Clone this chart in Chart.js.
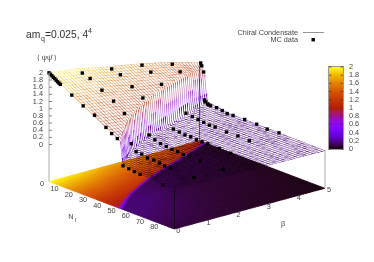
<!DOCTYPE html>
<html>
<head>
<meta charset="utf-8">
<script src="https://cdn.jsdelivr.net/npm/chart.js@4"></script>
<style>
  html, body { margin: 0; background: #fff; }
  canvas { display: block; }
</style>
</head>
<body>
<canvas id="chart" width="374" height="262"></canvas>
<script>
// MC data, one pair of arrays per beta
const mcBeta = [0, 1, 2, 3, 4, 5];
const mcNf0 = [0, 1, 2, 3, 4, 5, 6, 7, 8, 16, 24, 32, 40, 44, 48, 52, 56, 60, 64, 80];
const mcZ0 = [2, 1.97, 1.95, 1.92, 1.9, 1.87, 1.84, 1.82, 1.8, 1.62, 1.44, 1.3, 1.08, 0.97, 0.89, 0.19, 0.17, 0.15, 0.135, 0.076];
const mcNf1 = [2.2, 7.7, 16, 24.2, 31.8, 36.6, 40, 44, 48, 52.4, 56.5, 60, 64, 80.6];
const mcZ1 = [1.8, 1.73, 1.53, 1.35, 1.115, 0.35, 0.18, 0.17, 0.12, 0.13, 0.11, 0.08, 0.09, 0.067];
const mcNf2 = [1.65, 7.8, 16, 23.6, 28, 32, 36, 40, 44, 48, 52, 56, 64, 80];
const mcZ2 = [1.68, 1.61, 1.4, 1.2, 0.235, 0.16, 0.116, 0.095, 0.076, 0.075, 0.054, 0.065, 0.054, 0.05];
const mcNf3 = [1.8, 8, 15.5, 23.8, 28, 32, 36, 40, 44, 48, 56, 64];
const mcZ3 = [1.56, 1.46, 1.23, 0.11, 0.09, 0.07, 0.078, 0.055, 0.06, 0.067, 0.05, 0.04];
const mcNf4 = [1.9, 7.4, 11.5, 16, 20, 24, 28, 32, 40, 48, 56];
const mcZ4 = [1.36, 1.23, 0.14, 0.115, 0.095, 0.075, 0.055, 0.06, 0.045, 0.055, 0.04];
const mcNf5 = [0.7, 1.4, 2.75, 3.4, 4.1, 5.5, 6.2, 7.6, 11.8, 15.8, 19.3, 23.4, 31.6, 40, 47.4, 55.7];
const mcZ5 = [1.15, 1.08, 0.93, 0.16, 0.115, 0.08, 0.065, 0.06, 0.07, 0.05, 0.02, 0.03, 0.04, 0.035, 0.01, 0.03];
const mcNf = [mcNf0, mcNf1, mcNf2, mcNf3, mcNf4, mcNf5];
const mcZ = [mcZ0, mcZ1, mcZ2, mcZ3, mcZ4, mcZ5];

// surface, read per beta row (0 to 5 in steps of 0.1)
const betaGrid = [0, 0.1, 0.2, 0.3, 0.4, 0.5, 0.6, 0.7, 0.8, 0.9, 1, 1.1, 1.2, 1.3, 1.4, 1.5, 1.6, 1.7, 1.8, 1.9, 2, 2.1, 2.2, 2.3, 2.4, 2.5, 2.6, 2.7, 2.8, 2.9, 3, 3.1, 3.2, 3.3, 3.4, 3.5, 3.6, 3.7, 3.8, 3.9, 4, 4.1, 4.2, 4.3, 4.4, 4.5, 4.6, 4.7, 4.8, 4.9, 5];
const nfGrid = [0, 2, 4, 6, 8, 10, 12, 14, 16, 18, 20, 22, 24, 26, 28, 30, 32, 34, 36, 38, 40, 42, 44, 46, 48, 50, 52, 54, 56, 58, 60, 62, 64, 66, 68, 70, 72, 74, 76, 78, 80, 82, 84, 86, 88];
const rowEdgeNf = [49.5, 48, 46.5, 45, 43.5, 42, 40.7, 39.4, 38, 36.8, 35.5, 34.5, 33.5, 32.5, 31.5, 30.5, 29.5, 28.5, 27.5, 26.5, 25.5, 24.7, 23.9, 23.1, 22.3, 21.5, 20.7, 19.9, 19.1, 18.3, 17.5, 16.8, 16.1, 15.4, 14.7, 14, 13.3, 12.6, 11.9, 11.2, 10.5, 9.7, 8.9, 8.1, 7.3, 6.5, 5.8, 5, 4.3, 3.5, 2.8];
const rowTopZ = [2, 1.99, 1.98, 1.97, 1.96, 1.95, 1.94, 1.93, 1.92, 1.91, 1.9, 1.88, 1.86, 1.84, 1.82, 1.81, 1.79, 1.77, 1.75, 1.74, 1.72, 1.71, 1.69, 1.68, 1.66, 1.65, 1.63, 1.62, 1.6, 1.59, 1.57, 1.55, 1.53, 1.51, 1.49, 1.48, 1.46, 1.44, 1.42, 1.4, 1.38, 1.36, 1.34, 1.31, 1.29, 1.27, 1.25, 1.23, 1.2, 1.18, 1.16];
const rowEdgeZ = [0.87, 0.9, 0.93, 0.95, 0.98, 1, 1.02, 1.04, 1.06, 1.08, 1.09, 1.1, 1.11, 1.12, 1.13, 1.14, 1.15, 1.15, 1.16, 1.16, 1.17, 1.17, 1.18, 1.18, 1.19, 1.19, 1.2, 1.2, 1.21, 1.21, 1.22, 1.22, 1.22, 1.22, 1.22, 1.21, 1.21, 1.21, 1.21, 1.2, 1.2, 1.18, 1.16, 1.14, 1.12, 1.09, 1.06, 1.03, 1, 0.95, 0.9];
const rowFootZ = [0.22, 0.22, 0.22, 0.22, 0.22, 0.21, 0.21, 0.21, 0.21, 0.2, 0.2, 0.2, 0.2, 0.2, 0.2, 0.2, 0.2, 0.2, 0.2, 0.2, 0.2, 0.19, 0.18, 0.17, 0.16, 0.15, 0.15, 0.14, 0.14, 0.13, 0.13, 0.13, 0.13, 0.13, 0.13, 0.13, 0.14, 0.14, 0.14, 0.14, 0.14, 0.14, 0.14, 0.14, 0.14, 0.14, 0.14, 0.14, 0.14, 0.14, 0.14];
const rowKneeZ = [0.13, 0.13, 0.13, 0.13, 0.13, 0.13, 0.13, 0.13, 0.13, 0.13, 0.13, 0.12, 0.12, 0.12, 0.11, 0.11, 0.11, 0.1, 0.1, 0.09, 0.09, 0.09, 0.09, 0.08, 0.08, 0.08, 0.08, 0.07, 0.07, 0.07, 0.07, 0.07, 0.07, 0.07, 0.07, 0.07, 0.07, 0.07, 0.065, 0.065, 0.065, 0.06, 0.06, 0.06, 0.055, 0.05, 0.05, 0.05, 0.045, 0.04, 0.04];
const rowEndZ = [0.07, 0.07, 0.07, 0.07, 0.07, 0.07, 0.07, 0.07, 0.07, 0.06, 0.06, 0.06, 0.06, 0.06, 0.06, 0.06, 0.055, 0.055, 0.05, 0.05, 0.05, 0.05, 0.05, 0.05, 0.045, 0.045, 0.045, 0.045, 0.04, 0.04, 0.04, 0.04, 0.04, 0.035, 0.035, 0.035, 0.035, 0.03, 0.03, 0.03, 0.03, 0.03, 0.03, 0.03, 0.025, 0.025, 0.025, 0.025, 0.02, 0.02, 0.02];

// tick labels
const zTicks = ["0", "0.2", "0.4", "0.6", "0.8", "1", "1.2", "1.4", "1.6", "1.8", "2"];
const nfTicks = ["0", "10", "20", "30", "40", "50", "60", "70", "80"];
const betaTicks = ["0", "1", "2", "3", "4", "5"];

// gnuplot style 3d view mapped on the chart's two scales
const project = (nf, beta, z) => ({
  x: 46 + nf * 1.4545 + beta * 30.8,
  y: 145 + nf * 0.557 - beta * 8.4 - z * 37,
});
const floorZ = -1.03;

// palette 7,5,15 over cb range 0..2
function palette(z, alpha = 1) {
  const t = Math.max(0, Math.min(1, z / 2));
  const r = Math.sqrt(t);
  const g = t * t * t;
  const b = Math.max(0, Math.sin(2 * Math.PI * t));
  return `rgba(${Math.round(r * 255)},${Math.round(g * 255)},${Math.round(b * 255)},${alpha})`;
}

// cliff profile from plateau edge to foot
const cliffSteps = [0, 0.15, 0.3, 0.45, 0.6, 0.75, 0.9, 1];
const cliffDrop = [0, 0.05, 0.2, 0.45, 0.72, 0.9, 0.98, 1];
const cliffWidth = 3;
const kneeOffset = 16;

function heightAt(i, nf) {
  const edge = rowEdgeNf[i];
  const foot = edge + cliffWidth;
  if (nf <= edge) return rowTopZ[i] + ((rowEdgeZ[i] - rowTopZ[i]) * nf) / edge;
  if (nf < foot) {
    const s = (nf - edge) / cliffWidth;
    let k = 1;
    while (cliffSteps[k] < s) k++;
    const f = (s - cliffSteps[k - 1]) / (cliffSteps[k] - cliffSteps[k - 1]);
    const d = cliffDrop[k - 1] + (cliffDrop[k] - cliffDrop[k - 1]) * f;
    return rowEdgeZ[i] + (rowFootZ[i] - rowEdgeZ[i]) * d;
  }
  const knee = foot + kneeOffset;
  if (nf <= knee) return rowFootZ[i] + ((rowKneeZ[i] - rowFootZ[i]) * (nf - foot)) / kneeOffset;
  return rowKneeZ[i] + ((rowEndZ[i] - rowKneeZ[i]) * (nf - knee)) / (88 - knee);
}

function point3d(nf, beta, z) {
  const p = project(nf, beta, z);
  return { x: p.x, y: p.y, z };
}

const meshFloorZ = 0.16;
const meshWidth = 0.33;
const curtainWidth = 0.55;
const meshAlpha = 0.7;

const segmentZ = (ctx) => {
  const d = ctx.chart.data.datasets[ctx.datasetIndex].data;
  return [d[ctx.p0DataIndex].z, d[ctx.p1DataIndex].z];
};
const segmentColor = (ctx) => {
  const [a, b] = segmentZ(ctx);
  const mean = (a + b) / 2;
  return palette(Math.max(meshFloorZ, mean), mean > 0.4 ? meshAlpha : 1);
};
const rowWidth = (ctx) => {
  const [a, b] = segmentZ(ctx);
  return Math.abs(a - b) > 0.03 ? curtainWidth : meshWidth;
};
// lines running along the cliff stay out of the curtain
const alongCliffColor = (ctx) => {
  const [a, b] = segmentZ(ctx);
  return Math.abs(a - b) > 0.08 ? "rgba(0,0,0,0)" : segmentColor(ctx);
};

const datasets = [];

// MC points go first so they end up on top
const mcPoints = [];
mcBeta.forEach((b, r) => {
  mcNf[r].forEach((nf, j) => mcPoints.push(point3d(nf, b, mcZ[r][j])));
});
datasets.push({
  label: "MC data",
  data: mcPoints,
  showLine: false,
  pointStyle: "rect",
  pointRadius: 2.4,
  backgroundColor: "#000",
  borderColor: "#000",
  borderWidth: 0,
});

// back and front border verticals
datasets.push({
  data: [project(0, 5, 1.16), project(0, 5, floorZ)],
  showLine: true, pointRadius: 0, borderColor: "#222", borderWidth: 0.7,
});
datasets.push({
  data: [project(88, 0, 0.07), project(88, 0, floorZ)],
  showLine: true, pointRadius: 0, borderColor: "#111", borderWidth: 0.7,
});

// mesh lines along Nf, one per beta row
betaGrid.forEach((b, i) => {
  const edge = rowEdgeNf[i];
  const nfs = nfGrid.filter((n) => n < edge || n > edge + cliffWidth);
  cliffSteps.forEach((s) => nfs.push(edge + s * cliffWidth));
  nfs.sort((p, q) => p - q);
  datasets.push({
    data: nfs.map((n) => point3d(n, b, heightAt(i, n))),
    showLine: true, pointRadius: 0, borderWidth: meshWidth,
    segment: { borderColor: segmentColor, borderWidth: rowWidth },
  });
});

// mesh lines along beta, one per Nf value
nfGrid.forEach((n) => {
  datasets.push({
    data: betaGrid.map((b, i) => point3d(n, b, heightAt(i, n))),
    showLine: true, pointRadius: 0, borderWidth: meshWidth,
    segment: { borderColor: alongCliffColor },
  });
});

const textColor = "#444";
const sansFont = '"Liberation Sans", Arial, sans-serif';

// base map, drawn under the mesh
const basePlugin = {
  id: "base",
  beforeDatasetsDraw(chart) {
    const { ctx, scales } = chart;
    const px = (p) => [scales.x.getPixelForValue(p.x), scales.y.getPixelForValue(p.y)];
    // the lit band is narrow on the floor map
    const floorHeight = (i, n) => {
      const h = heightAt(i, n);
      return n > rowEdgeNf[i] + cliffWidth / 2 ? Math.min(h, rowKneeZ[i] * 1.1) : h;
    };
    ctx.save();
    ctx.lineWidth = 0.6;
    for (let i = 0; i < betaGrid.length - 1; i++) {
      for (let n = 0; n < 88; n++) {
        const z = (floorHeight(i, n + 0.5) + floorHeight(i + 1, n + 0.5)) / 2;
        const a = px(project(n, betaGrid[i], floorZ));
        const b = px(project(n + 1, betaGrid[i], floorZ));
        const c = px(project(n + 1, betaGrid[i + 1], floorZ));
        const d = px(project(n, betaGrid[i + 1], floorZ));
        ctx.fillStyle = ctx.strokeStyle = palette(z);
        ctx.beginPath();
        ctx.moveTo(a[0], a[1]);
        ctx.lineTo(b[0], b[1]);
        ctx.lineTo(c[0], c[1]);
        ctx.lineTo(d[0], d[1]);
        ctx.closePath();
        ctx.fill();
        ctx.stroke();
      }
    }
    ctx.restore();
    // mesh shows on white and orange, sinks into the dark floor
    ctx.globalCompositeOperation = "multiply";
  },
  afterDatasetsDraw(chart) {
    chart.ctx.globalCompositeOperation = "source-over";
  },
};

// axes, labels, legend, colour box
const textPlugin = {
  id: "labels",
  afterDraw(chart) {
    const { ctx, scales } = chart;
    const px = (p) => [scales.x.getPixelForValue(p.x), scales.y.getPixelForValue(p.y)];
    ctx.save();
    ctx.textBaseline = "middle";

    // title
    ctx.fillStyle = "#333";
    ctx.textAlign = "left";
    ctx.font = "10.3px " + sansFont;
    ctx.fillText("am", 26, 35.5);
    ctx.fillText("=0.025, 4", 45, 35.5);
    ctx.font = "7px " + sansFont;
    ctx.fillText("q", 41, 39.5);
    ctx.fillText("4", 88, 31.5);

    // z axis
    ctx.strokeStyle = "#aaa";
    ctx.lineWidth = 1;
    const za = px(project(0, 0, 2));
    const zb = px(project(0, 0, floorZ));
    ctx.beginPath();
    ctx.moveTo(za[0], za[1]);
    ctx.lineTo(zb[0], zb[1]);
    const ra = px(project(88, 5, 0.02));
    const rb = px(project(88, 5, floorZ));
    ctx.moveTo(ra[0], ra[1]);
    ctx.lineTo(rb[0], rb[1]);
    ctx.stroke();

    ctx.font = "7.3px " + sansFont;
    ctx.fillStyle = textColor;
    ctx.textAlign = "right";
    ctx.strokeStyle = "#555";
    ctx.lineWidth = 0.7;
    zTicks.forEach((t) => {
      const p = px(project(0, 0, Number(t)));
      ctx.fillText(t, p[0] - 6, p[1]);
      ctx.beginPath();
      ctx.moveTo(p[0], p[1]);
      ctx.lineTo(p[0] + 3, p[1]);
      ctx.stroke();
    });
    ctx.textAlign = "center";
    ctx.fillText("\u27E8 \u03C8\u03C8\u0304 \u27E9", 47, 58);

    // Nf ticks
    nfTicks.forEach((t) => {
      const p = px(project(Number(t), 0, floorZ));
      ctx.fillText(t, p[0] - (t === "0" ? 7 : 8.7), p[1] + 2.4);
    });
    ctx.fillText("N", 71, 217);
    ctx.font = "5.5px " + sansFont;
    ctx.fillText("f", 75.5, 220);
    ctx.font = "7.3px " + sansFont;

    // beta ticks
    betaTicks.forEach((t) => {
      const p = px(project(88, Number(t), floorZ));
      ctx.fillText(t, p[0] + 4, p[1] + 2);
    });
    ctx.fillText("\u03B2", 283, 224);

    // legend
    ctx.textAlign = "right";
    ctx.fillText("Chiral Condensate", 298, 32.5);
    ctx.fillText("MC data", 298, 39.5);
    ctx.strokeStyle = "#666";
    ctx.lineWidth = 0.7;
    ctx.beginPath();
    ctx.moveTo(303, 32.5);
    ctx.lineTo(324, 32.5);
    ctx.stroke();
    ctx.fillStyle = "#000";
    ctx.fillRect(311.5, 38, 3.4, 3.4);

    // colour box
    const boxL = 329, boxR = 343, boxT = 67, boxB = 149;
    for (let y = boxT; y < boxB; y++) {
      ctx.fillStyle = palette((2 * (boxB - y - 0.5)) / (boxB - boxT));
      ctx.fillRect(boxL, y, boxR - boxL, 1);
    }
    ctx.strokeStyle = "#999";
    ctx.lineWidth = 1;
    ctx.strokeRect(boxL - 0.5, boxT - 0.5, boxR - boxL + 1, boxB - boxT + 1);
    ctx.textAlign = "left";
    ctx.strokeStyle = "#333";
    ctx.lineWidth = 0.7;
    zTicks.forEach((t) => {
      const y = boxB - (Number(t) / 2) * (boxB - boxT);
      ctx.fillStyle = textColor;
      ctx.fillText(t, 349, y);
      ctx.beginPath();
      ctx.moveTo(boxL, y);
      ctx.lineTo(boxL + 2.5, y);
      ctx.moveTo(boxR - 2.5, y);
      ctx.lineTo(boxR, y);
      ctx.stroke();
    });
    ctx.restore();
  },
};

new Chart(document.getElementById("chart"), {
  type: "scatter",
  data: { datasets },
  options: {
    responsive: false,
    animation: false,
    layout: { padding: 0 },
    plugins: { legend: { display: false }, tooltip: { enabled: false } },
    scales: {
      x: { type: "linear", min: 0, max: 374, display: false },
      y: { type: "linear", min: 0, max: 262, reverse: true, display: false },
    },
  },
  plugins: [basePlugin, textPlugin],
});
</script>
</body>
</html>
